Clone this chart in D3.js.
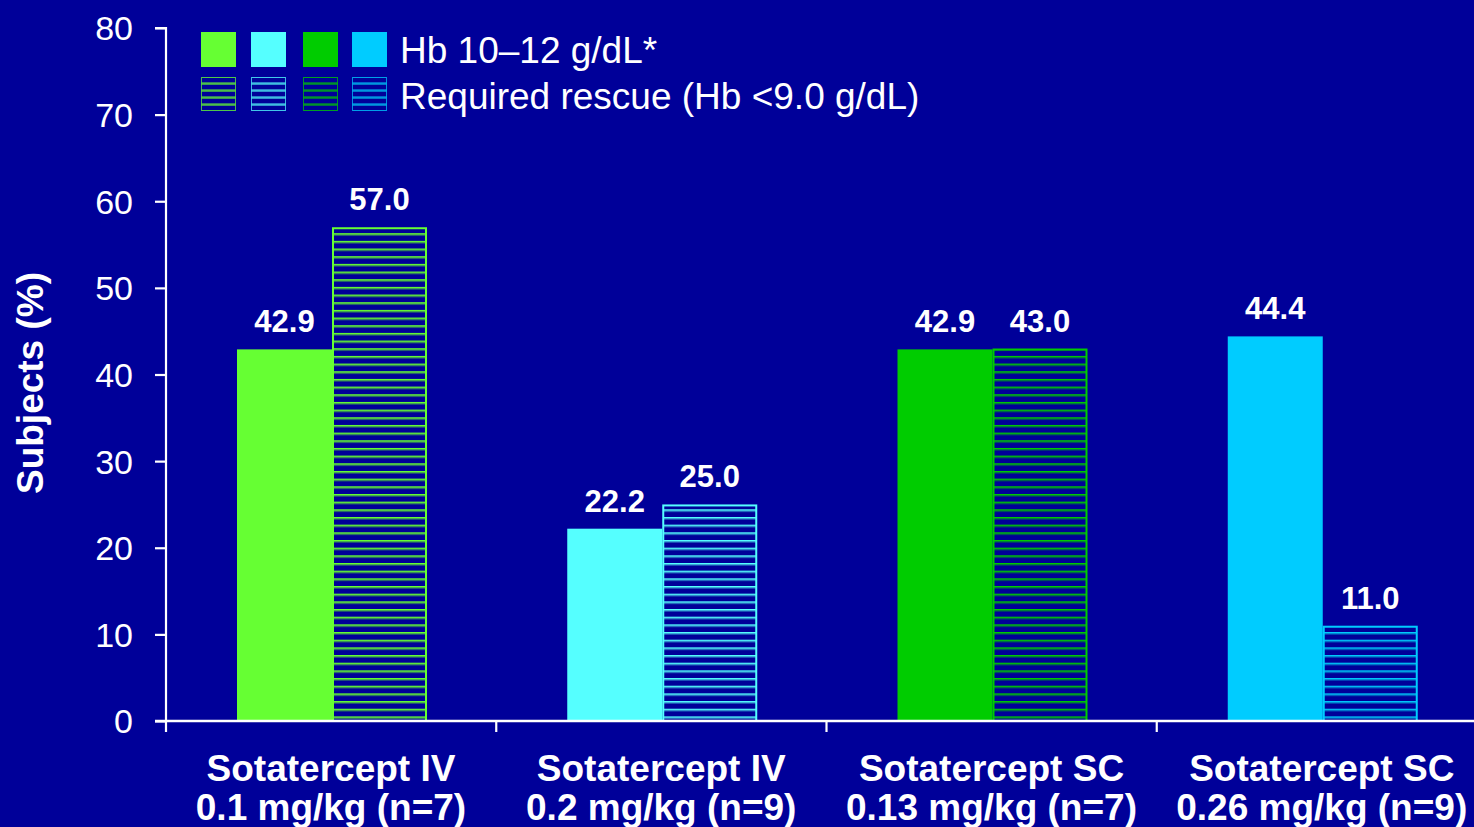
<!DOCTYPE html>
<html>
<head>
<meta charset="utf-8">
<script src="https://cdn.jsdelivr.net/npm/d3@7/dist/d3.min.js"></script>
<style>
  html, body { margin: 0; padding: 0; background: #000099; overflow: hidden; }
  svg { display: block; font-family: "Liberation Sans", Arial, sans-serif; }
</style>
</head>
<body>
<svg id="chart" width="1474" height="827"></svg>
<script>
// Dose groups (two-line category labels)
const categories = ["ivLow", "ivHigh", "scLow", "scHigh"];
const categoryLines = [
  ["Sotatercept IV", "0.1 mg/kg (n=7)"],
  ["Sotatercept IV", "0.2 mg/kg (n=9)"],
  ["Sotatercept SC", "0.13 mg/kg (n=7)"],
  ["Sotatercept SC", "0.26 mg/kg (n=9)"]
];
// Percentage of subjects reaching Hb 10–12 g/dL
const hbTarget = [42.9, 22.2, 42.9, 44.4];
// Percentage of subjects requiring rescue (Hb <9.0 g/dL)
const rescue = [57.0, 25.0, 43.0, 11.0];
const groupColors = ["#66FF33", "#55FFFF", "#00CC00", "#00CCFF"];
const hatchLineColors = ["#55D93A", "#46D2E6", "#00A020", "#00A8E0"];
const yTicks = [0, 10, 20, 30, 40, 50, 60, 70, 80];
const legendLabels = ["Hb 10\u201312 g/dL*", "Required rescue (Hb <9.0 g/dL)"];
const seriesKeys = ["hb", "rescue"];

const svg = d3.select("#chart");
const W = 1474, H = 827;
svg.append("rect").attr("width", W).attr("height", H).attr("fill", "#000099");

const y = d3.scaleLinear().domain([0, 80]).range([721, 28]);
const x0 = d3.scaleBand().domain(categories).range([166, 1487]).padding(0);
const x1 = d3.scaleBand().domain(seriesKeys).range([71, 261]).padding(0);

// Horizontal hatch patterns, one per group colour
const defs = svg.append("defs");
const step = 7.67;
groupColors.forEach((c, i) => {
  const p = defs.append("pattern")
    .attr("id", "hatch" + i)
    .attr("patternUnits", "userSpaceOnUse")
    .attr("x", 0).attr("y", 721 - 4.6)
    .attr("width", 20).attr("height", step);
  p.append("rect").attr("width", 20).attr("height", step).attr("fill", "#000099");
  p.append("rect").attr("y", 0).attr("width", 20).attr("height", 1.2).attr("fill", c);
  p.append("rect").attr("y", 1.2).attr("width", 20).attr("height", 1.1).attr("fill", hatchLineColors[i]);
});

// Bars
const g = svg.append("g");
categories.forEach((cat, i) => {
  const gx = x0(cat);
  const vals = [hbTarget[i], rescue[i]];
  vals.forEach((v, j) => {
    const bx = gx + x1(seriesKeys[j]);
    const bw = x1.bandwidth();
    if (j === 0) {
      g.append("rect")
        .attr("x", bx).attr("y", y(v))
        .attr("width", bw).attr("height", y(0) - y(v))
        .attr("fill", groupColors[i]);
    } else {
      g.append("rect")
        .attr("x", bx + 1).attr("y", y(v) + 1)
        .attr("width", bw - 2).attr("height", y(0) - y(v) - 1)
        .attr("fill", "url(#hatch" + i + ")")
        .attr("stroke", groupColors[i]).attr("stroke-width", 2);
    }
    g.append("text")
      .attr("x", bx + bw / 2).attr("y", y(v) - 17)
      .attr("text-anchor", "middle")
      .attr("fill", "#FFFFFF").attr("font-weight", "bold")
      .attr("font-size", 31)
      .text(v.toFixed(1));
  });
});

// Y axis
const yAxis = svg.append("g").attr("transform", "translate(166,0)")
  .call(d3.axisLeft(y).tickValues(yTicks).tickSize(11).tickPadding(22).tickFormat(d3.format("d")));
yAxis.select(".domain").attr("stroke", "#FFFFFF").attr("stroke-width", 2.2)
  .attr("d", "M-11," + y(80) + "H0V" + y(0));
yAxis.selectAll(".tick line").attr("stroke", "#FFFFFF").attr("stroke-width", 2.2);
yAxis.selectAll(".tick text").attr("fill", "#FFFFFF")
  .attr("font-size", 34).attr("font-family", "Liberation Sans, Arial, sans-serif")
  .attr("dy", "0.35em");

// X axis with group separators
const xAxis = svg.append("g").attr("transform", "translate(0,721)");
xAxis.append("line").attr("x1", 155).attr("x2", W).attr("y1", 0).attr("y2", 0)
  .attr("stroke", "#FFFFFF").attr("stroke-width", 2.5);
xAxis.selectAll("line.sep").data(categories).enter().append("line")
  .attr("class", "sep")
  .attr("x1", d => x0(d)).attr("x2", d => x0(d))
  .attr("y1", 0).attr("y2", 11)
  .attr("stroke", "#FFFFFF").attr("stroke-width", 2.2);

// Category labels
categories.forEach((cat, i) => {
  const cx = x0(cat) + 165;
  const t = svg.append("text")
    .attr("text-anchor", "middle")
    .attr("fill", "#FFFFFF").attr("font-weight", "bold").attr("font-size", 37);
  categoryLines[i].forEach((line, k) => {
    t.append("tspan").attr("x", cx).attr("y", 781 + k * 39).text(line);
  });
});

// Y axis title
svg.append("text")
  .attr("transform", "translate(43,383) rotate(-90)")
  .attr("text-anchor", "middle")
  .attr("fill", "#FFFFFF").attr("font-weight", "bold").attr("font-size", 37)
  .text("Subjects (%)");

// Legend
const legendX = [201, 251, 303, 352];
groupColors.forEach((c, i) => {
  svg.append("rect")
    .attr("x", legendX[i]).attr("y", 32).attr("width", 35).attr("height", 35)
    .attr("fill", c);
  svg.append("rect")
    .attr("x", legendX[i] + 0.5).attr("y", 77.5).attr("width", 34).attr("height", 33)
    .attr("fill", "url(#hatchLegend" + i + ")")
    .attr("stroke", c).attr("stroke-width", 1).attr("stroke-opacity", 0.7);
  const p = defs.append("pattern")
    .attr("id", "hatchLegend" + i)
    .attr("patternUnits", "userSpaceOnUse")
    .attr("x", 0).attr("y", 78)
    .attr("width", 20).attr("height", 7);
  p.append("rect").attr("width", 20).attr("height", 7).attr("fill", "#000099");
  p.append("rect").attr("y", 4.5).attr("width", 20).attr("height", 1.2).attr("fill", c);
  p.append("rect").attr("y", 5.7).attr("width", 20).attr("height", 1).attr("fill", hatchLineColors[i]);
});
legendLabels.forEach((lab, k) => {
  svg.append("text")
    .attr("x", 400).attr("y", 63 + k * 46)
    .attr("fill", "#FFFFFF").attr("font-size", 37)
    .text(lab);
});
</script>
</body>
</html>
